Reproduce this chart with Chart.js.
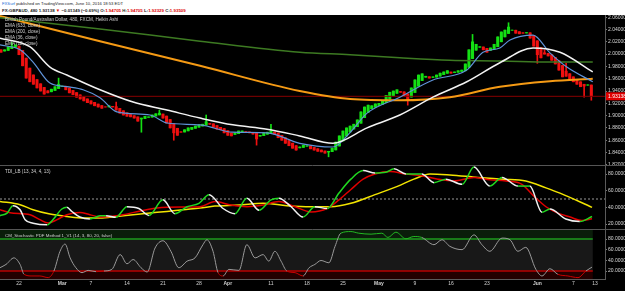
<!DOCTYPE html>
<html>
<head>
<meta charset="utf-8">
<title>GBPAUD 480</title>
<script src="https://cdn.jsdelivr.net/npm/chart.js@4.4.1/dist/chart.umd.min.js"></script>
<style>
  html, body { margin: 0; padding: 0; }
  body { width: 625px; height: 291px; overflow: hidden; background: #000; position: relative;
         font-family: "Liberation Sans", Arial, sans-serif; }
  #head { position: absolute; left: 0; top: 0; width: 625px; height: 15px; background: #fff; }
  #head div { position: absolute; left: 2px; font-size: 4.4px; line-height: 6px; white-space: nowrap; color: #222; }
  #head .l1 { top: 1px; font-size: 4.2px; }
  #head .l2 { top: 8px; font-weight: bold; }
  .blue { color: #1c6bd6; }
  .red { color: #e00000; }
  canvas { position: absolute; left: 0; }
  #price { top: 11px; }
  #tdi { top: 161px; }
  #stoch { top: 225px; }
  .tag { position: absolute; left: 5px; font-size: 4.6px; line-height: 6px; color: #cfcfcf; white-space: nowrap; }
</style>
</head>
<body>
<div id="head">
  <div class="l1"><span class="blue">FXSurf</span> published on TradingView.com, June 10, 2016 18:53 EDT</div>
  <div class="l2">FX:GBPAUD, 480 1.93138 <span class="red">▼</span> −0.01349 (−0.69%) O:<span class="red">1.94705</span> H:<span class="red">1.94705</span> L:<span class="red">1.92329</span> C:<span class="red">1.93509</span></div>
</div>

<canvas id="price" width="625" height="158"></canvas>
<canvas id="tdi" width="625" height="72"></canvas>
<canvas id="stoch" width="625" height="66"></canvas>

<div class="tag" style="top:17px">British Pound/Australian Dollar, 480, FXCM, Heikin Ashi</div>
<div class="tag" style="top:23px">EMA (633, close)</div>
<div class="tag" style="top:29px">EMA (200, close)</div>
<div class="tag" style="top:35px">EMA (36, close)</div>
<div class="tag" style="top:41px">EMA (12, close)</div>
<div class="tag" style="top:169px">TDI_LB (13, 34, 4, 13)</div>
<div class="tag" style="top:233px; font-size:4.4px">CM_Stochastic PDF Method 1_V1 (14, 3, 80, 20, false)</div>

<script>
// ---- time axis (x in 8h bar units, two bars per trading day) ----
const tickBars = [5, 17, 25, 35, 45, 55, 63, 75, 85, 95, 105, 115, 125, 135, 149, 159, 165];
const tickLabels = ["22", "Mar", "7", "14", "21", "28", "Apr", "11", "18", "25", "May", "9", "16", "23", "Jun", "7", "13"];

// ---- Heikin Ashi closes ----
const firstOpen = 2.007;
const closes = [
  2.003, 2.007, 2.012, 2.013, 2.015, 1.999, 1.981, 1.961, 1.955, 1.951,
  1.945, 1.940, 1.935, 1.937, 1.943, 1.947, 1.951, 1.948, 1.942, 1.937,
  1.934, 1.930, 1.927, 1.924, 1.921, 1.919, 1.916, 1.914, 1.912, 1.914,
  1.916, 1.914, 1.909, 1.904, 1.901, 1.899, 1.898, 1.896, 1.891, 1.896,
  1.899, 1.898, 1.901, 1.903, 1.904, 1.896, 1.888, 1.880, 1.872, 1.868,
  1.873, 1.877, 1.880, 1.881, 1.883, 1.885, 1.886, 1.890, 1.886, 1.881,
  1.878, 1.877, 1.872, 1.868, 1.867, 1.872, 1.875, 1.875, 1.873, 1.872,
  1.870, 1.862, 1.868, 1.872, 1.873, 1.875, 1.870, 1.864, 1.860, 1.855,
  1.851, 1.847, 1.844, 1.849, 1.852, 1.851, 1.846, 1.844, 1.842, 1.841,
  1.839, 1.842, 1.847, 1.857, 1.867, 1.875, 1.880, 1.883, 1.886, 1.893,
  1.906, 1.914, 1.917, 1.916, 1.919, 1.920, 1.924, 1.933, 1.938, 1.940,
  1.942, 1.938, 1.932, 1.925, 1.945, 1.958, 1.966, 1.968, 1.964, 1.961,
  1.963, 1.966, 1.969, 1.971, 1.973, 1.969, 1.971, 1.973, 1.974, 1.984,
  2.007, 2.020, 2.016, 2.012, 2.007, 2.003, 2.010, 2.016, 2.028, 2.036,
  2.039, 2.044, 2.039, 2.034, 2.033, 2.034, 2.035, 2.026, 2.013, 1.999,
  1.994, 2.000, 1.997, 1.990, 1.984, 1.974, 1.963, 1.964, 1.958, 1.955,
  1.951, 1.947, 1.948, 1.950, 1.932
];
// long wicks
const spikeBars = [3, 16, 32, 39, 44, 48, 57, 71, 75, 91, 113, 131, 141, 149, 151, 157, 162, 164];
const spikePrices = [2.019, 1.961, 1.922, 1.873, 1.909, 1.860, 1.901, 1.852, 1.886, 1.833, 1.917, 2.032, 2.051, 1.985, 2.007, 1.985, 1.930, 1.925];
const lastPrice = 1.93138;

// ---- moving averages ----
const ema633Bars = [-0.3, 27.5, 55.3, 83, 97, 110.8, 124.7, 138.6, 152.5, 164.4];
const ema633 = [2.059, 2.041, 2.021, 2.003, 1.999, 1.994, 1.990, 1.989, 1.987, 1.987];
const ema200Bars = [-0.3, 27.5, 55.3, 83, 97, 110.8, 124.7, 138.6, 152.5, 164.4];
const ema200 = [2.062, 2.021, 1.981, 1.940, 1.927, 1.925, 1.930, 1.947, 1.956, 1.960];
const ema36Bars = [-0.3, 8, 13.6, 18.3, 27.5, 36.7, 46.1, 55.3, 64.4, 73.9, 83, 92.2, 101.7, 110.8, 120, 129.4, 138.6, 147.8, 155.3, 164.4];
const ema36 = [2.026, 2.012, 1.979, 1.966, 1.942, 1.922, 1.909, 1.896, 1.885, 1.878, 1.867, 1.855, 1.880, 1.901, 1.930, 1.955, 1.986, 2.010, 2.003, 1.971];
const ema12Bars = [-0.3, 5.3, 8.9, 13.6, 18.3, 22.8, 27.5, 32.2, 41.4, 46.1, 55.3, 64.4, 73.9, 83, 92.2, 96.9, 101.7, 110.8, 120, 129.4, 133.9, 138.6, 141.4, 147.8, 152.5, 157.2, 164.4];
const ema12 = [2.015, 2.007, 1.987, 1.953, 1.947, 1.942, 1.929, 1.906, 1.901, 1.888, 1.885, 1.873, 1.872, 1.855, 1.849, 1.872, 1.904, 1.930, 1.958, 1.974, 2.003, 2.010, 2.023, 2.031, 2.002, 1.979, 1.955];
const priceTicks = [1.82, 1.84, 1.86, 1.88, 1.90, 1.92, 1.94, 1.96, 1.98, 2.00, 2.02, 2.04, 2.06];

// ---- TDI ----
const rsiBars = [-0.3, 1.7, 3.3, 5.3, 6.7, 8.9, 12.8, 14.4, 16.9, 18.3, 19.7, 21.9, 24.7, 27.5, 29.2, 31.9, 35, 38.3, 41.1, 45,
  48.3, 51.7, 55, 57.8, 61.7, 65, 68.3, 71.7, 75, 77.2, 80.6, 83.9, 87.2, 90.6, 93.9, 97.2, 100.6, 103.9, 106.9, 109.2,
  112.5, 116.9, 120.3, 123.6, 128.1, 131.4, 135.8, 139.2, 143.6, 146.9, 150.3, 152.5, 156.9, 160.8, 164.2];
const rsi = [30, 33, 42, 37, 25, 21, 19, 25, 38, 40, 35, 28.4, 26, 30, 30, 28, 40.7, 38.6, 30.3, 49,
  32.4, 40.7, 44.8, 55.2, 38.6, 32.4, 51, 36.5, 49, 51, 40.7, 28.3, 40.7, 38.6, 57.2, 73.8, 84.1, 81.2, 82.1, 86.2,
  80, 80, 69.6, 73.8, 67.6, 88.3, 65.5, 75.9, 65.5, 65.5, 34, 38, 26, 23, 29];
const signalBars = [-0.3, 2.5, 8.1, 10.8, 13.1, 15.6, 18.3, 21.9, 24.7, 27.5, 30.3, 33.9, 39.4, 43.3, 50.6, 55.3, 59.4, 63.9, 68.3, 72.8,
  77.2, 81.7, 86.1, 90.6, 93.9, 97.2, 100.6, 103.9, 108.1, 112.5, 116.9, 121.4, 125.8, 131.4, 135.8, 140.3, 144.7, 148.1, 151.4, 154.7,
  158.1, 161.4, 164.2];
const signal = [37.2, 33.5, 31.2, 25.2, 21.2, 25.2, 31.2, 33.9, 31.2, 28.4, 29.1, 31.2, 36.3, 39.2, 40.4, 40.7, 46.9, 42.7, 40.7, 42.7,
  46.9, 40.7, 34.5, 38.6, 49, 61.4, 73.8, 80, 82.9, 80, 77.9, 73.8, 71.7, 75.9, 73, 71.7, 67.6, 53.1, 40.7, 33,
  28.3, 24.1, 26.2];
const baseBars = [-0.3, 5.3, 8.9, 13.6, 18.3, 22.8, 27.5, 32.2, 36.7, 41.4, 46.1, 50.6, 55.3, 59.4, 66.1, 72.8, 79.4, 86.1, 91.7, 97.2,
  103.9, 110.3, 114.7, 119.2, 124.7, 132.5, 139.2, 145.8, 151.4, 155.3, 164.2];
const baseLine = [47.1, 43.2, 37.2, 32, 29.1, 27.2, 27.2, 29.1, 31.2, 33.2, 35.1, 37.2, 39.2, 41.5, 42.7, 44.8, 42, 40.7, 40.7, 44.8,
  55.2, 65.5, 73.8, 80, 78.8, 75.9, 73.8, 71.7, 63.4, 57, 40];
const tdiMid = 50;
const tdiTicks = [20, 40, 60, 80];

// ---- Stochastic ----
const stochBars = [-0.3, 1.4, 3.6, 5.3, 6.4, 8.6, 10.8, 13.1, 14.7, 16.4, 17.8, 19.2, 20.8, 22.5, 24.2, 26.4, 28.6, 30.8, 33.1, 35,
  36.7, 38.9, 40.6, 42.8, 45, 47.2, 49.4, 51.7, 53.9, 56.1, 57.2, 58.9, 60.3, 61.7, 63.3, 66.1, 68.3, 70.6, 72.8, 74.4,
  76.1, 77.8, 79.4, 81.7, 83.9, 85.6, 87.2, 88.9, 91.1, 92.8, 94.4, 97.2, 99.4, 102.8, 105.8, 107.5, 109.7, 112.5, 114.7, 116.9,
  120.3, 122.5, 124.7, 128.1, 131.4, 133.6, 135.8, 139.2, 141.4, 143.6, 145.8, 148.6, 150.3, 152.5, 154.7, 157.5, 160.3, 162.5, 164.2];
const stoch = [26.2, 32.4, 44.7, 32.4, 13.8, 10.7, 10.7, 7.6, 20, 57.1, 70.7, 44.7, 26.2, 16.9, 21.2, 18.8, 20, 23.1, 50.9, 33.6,
  41.6, 26.2, 18.1, 63.3, 76.9, 57.1, 26.2, 38.6, 44.7, 69.5, 78.8, 57.1, 16.9, 10.7, 23.1, 21.2, 69.5, 44.7, 50.9, 38.6,
  57.1, 38.6, 20, 16.9, 10.7, 26.2, 32.4, 39.8, 35.5, 66.4, 91.1, 94.2, 91.1, 89.3, 91.1, 83.1, 93, 80.6, 84.9, 83.1,
  69.5, 78.8, 66.4, 60.2, 88, 69.5, 57.1, 81.9, 78.8, 57.1, 64.5, 23.1, 10.7, 24.3, 13.8, 10.7, 7.6, 20, 27.4];
const stochLevels = [80, 20];
const stochSpan = [-0.3, 164.4];
const stochTicks = [20, 40, 60, 80];

// ---------------------------------------------------------------
Chart.defaults.font.family = '"Liberation Sans", Arial, sans-serif';
Chart.defaults.font.size = 5;
Chart.defaults.color = '#d0d0d0';
Chart.defaults.animation = false;
Chart.defaults.events = [];
Chart.defaults.plugins.legend.display = false;
Chart.defaults.plugins.tooltip.enabled = false;

const xMin = -0.28, xMax = 167.8;
const UP = '#14e014', DOWN = '#f01010';

const pts = (xs, ys) => xs.map((x, i) => ({ x: x, y: ys[i] }));

function xAxis(show) {
  return {
    type: 'linear', min: xMin, max: xMax, offset: false, display: show,
    grid: { display: false, drawTicks: false },
    border: { display: show, color: '#5a5a5a' },
    afterBuildTicks: s => { s.ticks = tickBars.map(v => ({ value: v })); },
    afterFit: s => {
      if (!show) { s.height = 0; return; }
      s.height = 12; s.paddingLeft = 0; s.paddingRight = 0;
    },
    ticks: {
      autoSkip: false, maxRotation: 0, padding: 2, color: '#d0d0d0',
      callback: (v, i) => tickLabels[i],
      font: c => ({ size: 5, weight: /^[A-Z]/.test(tickLabels[c.index] || '') ? 'bold' : 'normal' })
    }
  };
}

function yAxis(min, max, ticks, digits) {
  return {
    position: 'right', min: min, max: max,
    grid: { drawOnChartArea: false, tickLength: 2, color: '#777' },
    border: { color: '#5a5a5a' },
    afterBuildTicks: s => { s.ticks = ticks.map(v => ({ value: v })); },
    afterFit: s => { s.width = 20; s.paddingTop = 0; s.paddingBottom = 0; },
    ticks: { padding: 1, color: '#d8d8d8', callback: v => v.toFixed(digits) }
  };
}

// thin grey line between panels
const separator = {
  id: 'separator',
  afterDraw(chart) {
    const { ctx, chartArea: a } = chart;
    ctx.save();
    ctx.strokeStyle = '#555';
    ctx.lineWidth = 1;
    ctx.beginPath();
    ctx.moveTo(0, Math.round(a.top) + 0.5);
    ctx.lineTo(chart.width, Math.round(a.top) + 0.5);
    ctx.stroke();
    ctx.restore();
  }
};

// last price tag on the right axis
const priceTag = {
  id: 'priceTag',
  afterDraw(chart) {
    const { ctx, chartArea: a, scales: { y } } = chart;
    const py = y.getPixelForValue(lastPrice);
    ctx.save();
    ctx.fillStyle = '#e00000';
    ctx.fillRect(a.right + 1, py - 4, chart.width - a.right - 1, 8);
    ctx.fillStyle = '#fff';
    ctx.font = '5px "Liberation Sans", Arial, sans-serif';
    ctx.textBaseline = 'middle';
    ctx.fillText(lastPrice.toFixed(5), a.right + 3, py);
    ctx.restore();
  }
};

// stochastic zones
const stochBands = {
  id: 'stochBands',
  beforeDatasetsDraw(chart) {
    const { ctx, chartArea: a, scales: { x, y } } = chart;
    const x0 = Math.max(a.left, x.getPixelForValue(stochSpan[0]));
    const x1 = x.getPixelForValue(stochSpan[1]);
    const yHi = y.getPixelForValue(stochLevels[0]);
    const yLo = y.getPixelForValue(stochLevels[1]);
    ctx.save();
    ctx.fillStyle = '#0a1d0a';
    ctx.fillRect(x0, a.top, x1 - x0, yHi - a.top);
    ctx.fillStyle = '#181818';
    ctx.fillRect(x0, yHi, x1 - x0, yLo - yHi);
    ctx.fillStyle = '#230000';
    ctx.fillRect(x0, yLo, x1 - x0, a.bottom - yLo);
    ctx.restore();
  }
};

// =========================
// PRICE PANEL
// =========================
const opens = [];
closes.forEach((c, i) => opens.push(i ? (opens[i - 1] + closes[i - 1]) / 2 : firstOpen));
const highs = closes.map((c, i) => Math.max(c, opens[i]));
const lows = closes.map((c, i) => Math.min(c, opens[i]));
spikeBars.forEach((b, k) => {
  const p = spikePrices[k];
  if (p > highs[b]) highs[b] = p;
  else if (p < lows[b]) lows[b] = p;
});
const candleColors = closes.map((c, i) => c >= opens[i] ? UP : DOWN);

const lineDs = (data, color, width, order) => ({
  type: 'line', data: data, borderColor: color, borderWidth: width,
  pointRadius: 0, cubicInterpolationMode: 'monotone', order: order
});

new Chart(document.getElementById('price'), {
  type: 'bar',
  data: {
    datasets: [
      { data: closes.map((c, i) => ({ x: i, y: [lows[i], highs[i]] })), backgroundColor: candleColors,
        barThickness: 1, grouped: false, order: 4 },
      { data: closes.map((c, i) => ({ x: i, y: [opens[i], c] })), backgroundColor: candleColors,
        barThickness: 2.4, grouped: false, order: 3 },
      lineDs([{ x: xMin, y: lastPrice }, { x: xMax, y: lastPrice }], '#860000', 1, 2),
      lineDs(pts(ema633Bars, ema633), '#3d7a22', 1.5, 1),
      lineDs(pts(ema200Bars, ema200), '#f59a14', 2, 1),
      lineDs(pts(ema36Bars, ema36), '#f2f2f2', 1.5, 0),
      lineDs(pts(ema12Bars, ema12), '#5f93d8', 1.2, 0)
    ]
  },
  options: {
    responsive: false,
    devicePixelRatio: 1,
    layout: { padding: { top: 4, bottom: 4, left: 0, right: 0 } },
    scales: {
      x: xAxis(false),
      y: yAxis(1.8197, 2.0636, priceTicks, 5)
    }
  },
  plugins: [priceTag]
});

// =========================
// TDI PANEL
// =========================
new Chart(document.getElementById('tdi'), {
  type: 'line',
  data: {
    datasets: [
      { data: [{ x: xMin, y: tdiMid }, { x: xMax, y: tdiMid }], borderColor: '#9a9a9a', borderWidth: 1,
        borderDash: [2, 2], pointRadius: 0, order: 4 },
      { data: pts(baseBars, baseLine), borderColor: '#f2e400', borderWidth: 1.5, pointRadius: 0,
        cubicInterpolationMode: 'monotone', order: 3 },
      { data: pts(signalBars, signal), borderColor: '#e00000', borderWidth: 1.5, pointRadius: 0,
        cubicInterpolationMode: 'monotone', order: 2 },
      { data: pts(rsiBars, rsi), borderWidth: 1.5, pointRadius: 0, cubicInterpolationMode: 'monotone', order: 1,
        borderColor: '#f0f0f0',
        segment: { borderColor: c => c.p1.parsed.y >= c.p0.parsed.y ? '#20d820' : '#f0f0f0' } }
    ]
  },
  options: {
    responsive: false,
    devicePixelRatio: 1,
    layout: { padding: { top: 4, bottom: 4, left: 0, right: 0 } },
    scales: {
      x: xAxis(false),
      y: yAxis(14, 90.8, tdiTicks, 4)
    }
  },
  plugins: [separator]
});

// =========================
// STOCHASTIC PANEL
// =========================
new Chart(document.getElementById('stoch'), {
  type: 'line',
  data: {
    datasets: [
      { data: stochSpan.map(x => ({ x: x, y: stochLevels[0] })), borderColor: '#1c9c1c', borderWidth: 1.5, pointRadius: 0, order: 3 },
      { data: stochSpan.map(x => ({ x: x, y: stochLevels[1] })), borderColor: '#b80000', borderWidth: 1.5, pointRadius: 0, order: 3 },
      { data: pts(stochBars, stoch), borderWidth: 1, pointRadius: 0, cubicInterpolationMode: 'monotone', order: 1,
        borderColor: '#9a9a9a',
        segment: {
          borderColor: c => {
            const a = c.p0.parsed.y, b = c.p1.parsed.y;
            if (a >= stochLevels[0] && b >= stochLevels[0]) return '#22b822';
            if (a <= stochLevels[1] && b <= stochLevels[1]) return '#c80000';
            return '#9a9a9a';
          }
        } }
    ]
  },
  options: {
    responsive: false,
    devicePixelRatio: 1,
    layout: { padding: { top: 4, bottom: 0, left: 0, right: 0 } },
    scales: {
      x: xAxis(true),
      y: yAxis(5, 99, stochTicks, 4)
    }
  },
  plugins: [stochBands, separator]
});
</script>
</body>
</html>
